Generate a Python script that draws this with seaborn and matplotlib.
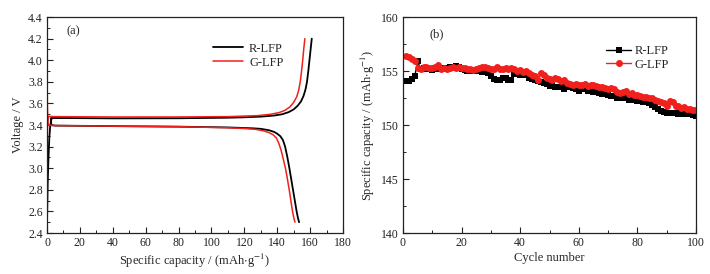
import numpy as np
import pandas as pd
import matplotlib
matplotlib.use("Agg")
import matplotlib.pyplot as plt
from matplotlib.ticker import MultipleLocator, FormatStrFormatter
import seaborn as sns

# (a) charge / discharge profiles: capacity (mAh/g), voltage (V)
r_charge_cap = [0, 0.4, 0.9, 1.4, 1.9, 2.4, 3.0, 10, 40, 80, 110, 120, 130, 138, 143,
                147, 150, 152.5, 154.5, 156, 157.2, 158.1, 158.9, 159.6, 160.3, 161]
r_charge_v = [2.50, 2.85, 3.10, 3.28, 3.38, 3.44, 3.465, 3.465, 3.462, 3.463, 3.468, 3.472,
              3.478, 3.488, 3.50, 3.52, 3.545, 3.58, 3.62, 3.67, 3.73, 3.80, 3.90, 4.00,
              4.10, 4.20]
r_dis_cap = [2.4, 2.6, 5, 40, 80, 110, 125, 130, 135, 138, 140, 142, 143.5, 144.8, 146.2,
             147.4, 148.5, 149.6, 150.7, 151.8, 152.6, 153.3]
r_dis_v = [3.465, 3.40, 3.395, 3.39, 3.385, 3.378, 3.37, 3.365, 3.352, 3.337, 3.32, 3.295,
           3.26, 3.20, 3.10, 3.00, 2.90, 2.80, 2.70, 2.60, 2.54, 2.50]
g_charge_cap = [0, 0.4, 1.0, 5, 40, 80, 110, 118, 128, 136, 141, 144.5, 147.5, 150, 151.8,
                153, 154, 154.8, 155.5, 156.1, 156.8]
g_charge_v = [3.25, 3.42, 3.48, 3.478, 3.475, 3.475, 3.478, 3.482, 3.487, 3.50, 3.515,
              3.535, 3.565, 3.61, 3.66, 3.72, 3.80, 3.90, 4.00, 4.10, 4.20]
g_dis_cap = [0, 0.2, 0.5, 1.0, 5, 40, 80, 110, 120, 127, 132, 135, 137.5, 139.5, 141,
             142.3, 143.6, 145, 146.2, 147.3, 148.3, 149.3, 150.1, 150.8]
g_dis_v = [4.0, 3.60, 3.42, 3.40, 3.395, 3.39, 3.385, 3.375, 3.368, 3.36, 3.345, 3.33,
           3.31, 3.28, 3.23, 3.17, 3.09, 3.00, 2.90, 2.80, 2.70, 2.60, 2.54, 2.50]

# (b) cycling performance
cycles = list(range(1, 101))
r_lfp = [154.1, 154.1, 154.3, 154.5, 155.9, 155.2, 155.3, 155.2, 155.2, 155.1,
         155.2, 155.3, 155.2, 155.3, 155.3, 155.4, 155.3, 155.5, 155.4, 155.2,
         155.1, 155.0, 155.1, 155.0, 155.0, 155.0, 154.9, 155.1, 154.8, 154.5,
         154.3, 154.2, 154.2, 154.4, 154.4, 154.2, 154.2, 154.7, 154.7, 154.6,
         154.6, 154.6, 154.4, 154.3, 154.2, 154.1, 154.0, 153.9, 153.8, 153.6,
         153.6, 153.5, 153.5, 153.5, 153.3, 153.5, 153.5, 153.4, 153.3, 153.2,
         153.3, 153.3, 153.2, 153.2, 153.1, 153.1, 153.0, 152.9, 152.9, 152.8,
         152.7, 152.7, 152.5, 152.5, 152.5, 152.5, 152.3, 152.4, 152.3, 152.2,
         152.2, 152.1, 152.1, 152.0, 151.9, 151.7, 151.5, 151.3, 151.2, 151.1,
         151.1, 151.1, 151.1, 151.0, 151.1, 151.0, 151.1, 151.0, 150.9, 150.8]
g_lfp = [156.4, 156.3, 156.1, 155.9, 155.3, 155.2, 155.4, 155.4, 155.3, 155.3,
         155.4, 155.6, 155.2, 155.3, 155.2, 155.3, 155.4, 155.3, 155.4, 155.3,
         155.3, 155.2, 155.2, 155.1, 155.2, 155.3, 155.4, 155.4, 155.3, 155.2,
         155.2, 155.4, 155.2, 155.2, 155.3, 155.2, 155.3, 155.2, 155.0, 155.1,
         154.9, 155.0, 154.8, 154.6, 154.5, 154.2, 154.8, 154.6, 154.4, 154.3,
         154.2, 154.4, 154.3, 154.1, 154.2, 153.9, 153.8, 153.7, 153.8, 153.7,
         153.7, 153.8, 153.6, 153.7, 153.7, 153.6, 153.5, 153.5, 153.4, 153.3,
         153.4, 153.3, 153.1, 153.0, 153.1, 153.2, 152.9, 153.0, 152.8, 152.8,
         152.7, 152.6, 152.6, 152.5, 152.5, 152.3, 152.2, 152.1, 152.0, 151.8,
         152.2, 152.1, 151.8, 151.8, 151.6, 151.7, 151.5, 151.5, 151.4, 151.4]

BLACK = "#000000"
RED = "#f0201c"

sns.set_theme(style="ticks")
plt.rcParams["font.family"] = ["Liberation Serif", "DejaVu Serif"]
plt.rcParams["mathtext.fontset"] = "stix"
plt.rcParams["font.size"] = 9
plt.rcParams["axes.linewidth"] = 0.9

fig = plt.figure(figsize=(7.10, 2.74), dpi=100)
ax1 = fig.add_axes([0.0662, 0.1496, 0.4169, 0.788])
ax2 = fig.add_axes([0.5676, 0.1496, 0.4127, 0.788])

# --- (a) ---
sns.lineplot(x=r_charge_cap, y=r_charge_v, ax=ax1, color=BLACK, lw=1.3, sort=False,
             estimator=None, label="R-LFP")
sns.lineplot(x=r_dis_cap, y=r_dis_v, ax=ax1, color=BLACK, lw=1.3, sort=False, estimator=None)
sns.lineplot(x=g_charge_cap, y=g_charge_v, ax=ax1, color=RED, lw=1.1, sort=False,
             estimator=None, label="G-LFP")
sns.lineplot(x=g_dis_cap, y=g_dis_v, ax=ax1, color=RED, lw=1.1, sort=False, estimator=None)
ax1.set_xlim(0, 180)
ax1.set_ylim(2.4, 4.4)
ax1.xaxis.set_major_locator(MultipleLocator(20))
ax1.xaxis.set_minor_locator(MultipleLocator(10))
ax1.yaxis.set_major_locator(MultipleLocator(0.2))
ax1.yaxis.set_minor_locator(MultipleLocator(0.1))
ax1.yaxis.set_major_formatter(FormatStrFormatter("%.1f"))
ax1.set_xlabel(r"Specific capacity / (mAh$\cdot$g$^{-1}$)", fontsize=9, labelpad=2)
ax1.set_ylabel("Voltage / V", fontsize=9, labelpad=3)
ax1.text(0.065, 0.935, "(a)", transform=ax1.transAxes, fontsize=9, va="center")
ax1.legend(loc="upper right", bbox_to_anchor=(0.82, 0.91), frameon=False, fontsize=9,
           handlelength=2.4, handletextpad=0.5, labelspacing=0.15, borderpad=0)

# --- (b) ---
sns.lineplot(x=cycles, y=r_lfp, ax=ax2, color=BLACK, lw=1.0, marker="s", markersize=4.5,
             markeredgewidth=0, label="R-LFP")
sns.lineplot(x=cycles, y=g_lfp, ax=ax2, color=RED, lw=1.0, marker="o", markersize=5,
             markeredgewidth=0, label="G-LFP")
ax2.set_xlim(0, 100)
ax2.set_ylim(140, 160)
ax2.xaxis.set_major_locator(MultipleLocator(20))
ax2.xaxis.set_minor_locator(MultipleLocator(10))
ax2.yaxis.set_major_locator(MultipleLocator(5))
ax2.yaxis.set_minor_locator(MultipleLocator(2.5))
ax2.set_xlabel("Cycle number", fontsize=9, labelpad=2)
ax2.set_ylabel(r"Specific capacity / (mAh$\cdot$g$^{-1}$)", fontsize=9, labelpad=3)
ax2.text(0.09, 0.92, "(b)", transform=ax2.transAxes, fontsize=9, va="center")
ax2.legend(loc="upper right", bbox_to_anchor=(0.93, 0.9), frameon=False, fontsize=9,
           handlelength=2.0, handletextpad=0.3, labelspacing=0.15, borderpad=0)

for ax in (ax1, ax2):
    ax.tick_params(which="both", direction="in", top=False, right=False, labelsize=8.5,
                   colors="#222222")
    ax.tick_params(which="major", length=4, width=0.8, pad=3)
    ax.tick_params(which="minor", length=2.2, width=0.7)
    for s in ax.spines.values():
        s.set_visible(True)
        s.set_color("#222222")

plt.savefig("out.png", dpi=100)
plt.close()
